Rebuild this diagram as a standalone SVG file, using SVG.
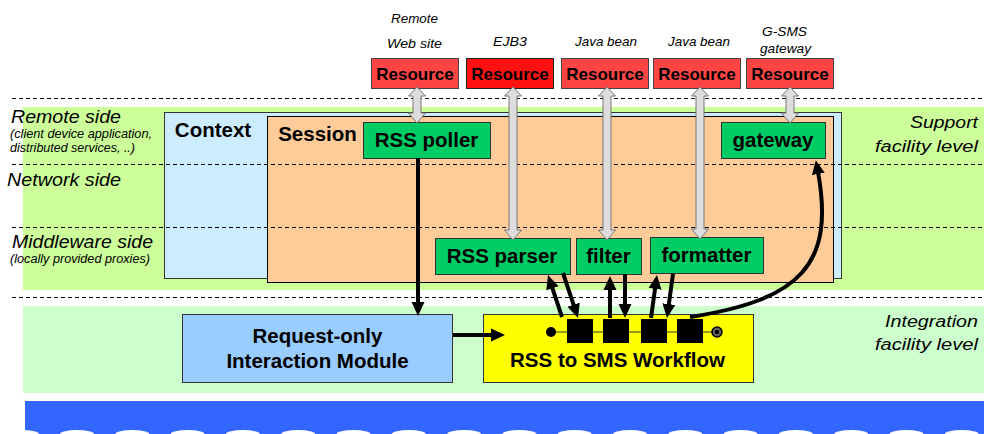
<svg xmlns="http://www.w3.org/2000/svg" width="984" height="434" viewBox="0 0 984 434">
  <style>
    .lbl { font-family: "Liberation Sans", Arial, sans-serif; font-weight: bold; fill: #000; text-anchor: middle; }
    .res { font-size: 17px; }
    .big { font-size: 20.5px; }
    .it { font-family: "Liberation Sans", Arial, sans-serif; font-style: italic; fill: #000; }
    .dash { stroke: #000; stroke-width: 1; stroke-dasharray: 4 3; fill: none; }
    .resbox { fill: #FF4444; stroke: #444; stroke-width: 1; }
    .comp { fill: #00CC66; stroke: #333; stroke-width: 1; }
    .dbl { fill: #DDDDDD; stroke: #777; stroke-width: 1; }
    .flow { stroke: #000; stroke-width: 4; fill: none; marker-end: url(#ah); }
    .step { fill: #000; }
  </style>
  <defs>
    <marker id="ah" viewBox="0 0 14 14" refX="2" refY="7" markerWidth="14" markerHeight="14" markerUnits="userSpaceOnUse" orient="auto">
      <path d="M0,0.5 L14,7 L0,13.5 Z" fill="#000"/>
    </marker>
    <ellipse id="crest" cx="0" cy="434" rx="17" ry="4"/>
  </defs>

  <!-- facility level bands -->
  <rect x="23" y="107" width="961" height="183" fill="#CCFF99"/>
  <rect x="23" y="306" width="961" height="87" fill="#CCFFCC"/>

  <!-- bottom sea band with white scallops -->
  <rect x="25" y="401" width="959" height="33" fill="#3366FF"/>
  <g fill="#FFFFFF">
    <use href="#crest" x="22"/>
    <use href="#crest" x="77"/>
    <use href="#crest" x="132.3"/>
    <use href="#crest" x="187.6"/>
    <use href="#crest" x="242.9"/>
    <use href="#crest" x="298.2"/>
    <use href="#crest" x="353.5"/>
    <use href="#crest" x="408.8"/>
    <use href="#crest" x="464.1"/>
    <use href="#crest" x="519.4"/>
    <use href="#crest" x="574.7"/>
    <use href="#crest" x="630"/>
    <use href="#crest" x="685.3"/>
    <use href="#crest" x="740.6"/>
    <use href="#crest" x="795.9"/>
    <use href="#crest" x="851.2"/>
    <use href="#crest" x="906.5"/>
    <use href="#crest" x="961.8"/>
  </g>

  <!-- containers -->
  <g id="context">
    <rect x="164.5" y="112.5" width="677" height="166" fill="#CCECFF" stroke="#333" stroke-width="1"/>
    <text class="lbl big" x="213" y="137">Context</text>
  </g>
  <g id="session">
    <rect x="267.5" y="116.5" width="566" height="166" fill="#FFCC99" stroke="#000" stroke-width="1"/>
    <text class="lbl big" x="317.5" y="141">Session</text>
  </g>

  <!-- layer separators -->
  <g id="separators">
    <line class="dash" x1="12" y1="98.5" x2="984" y2="98.5"/>
    <line class="dash" x1="12" y1="164.5" x2="984" y2="164.5"/>
    <line class="dash" x1="12" y1="227.5" x2="984" y2="227.5"/>
    <line class="dash" x1="12" y1="297.5" x2="984" y2="297.5"/>
  </g>

  <!-- side and level labels -->
  <g id="labels">
    <text class="it" x="11" y="123" font-size="18" textLength="110" lengthAdjust="spacingAndGlyphs">Remote side</text>
    <text class="it" x="10" y="138" font-size="12" textLength="142" lengthAdjust="spacingAndGlyphs">(client device application,</text>
    <text class="it" x="10" y="152" font-size="12" textLength="125" lengthAdjust="spacingAndGlyphs">distributed services, ..)</text>
    <text class="it" x="7" y="186" font-size="18" textLength="114" lengthAdjust="spacingAndGlyphs">Network side</text>
    <text class="it" x="12" y="248" font-size="18" textLength="141" lengthAdjust="spacingAndGlyphs">Middleware side</text>
    <text class="it" x="10" y="263" font-size="12" textLength="140" lengthAdjust="spacingAndGlyphs">(locally provided proxies)</text>
    <text class="it" x="910" y="128" font-size="16" textLength="68" lengthAdjust="spacingAndGlyphs">Support</text>
    <text class="it" x="875" y="152" font-size="16" textLength="103" lengthAdjust="spacingAndGlyphs">facility level</text>
    <text class="it" x="885" y="327" font-size="16" textLength="93" lengthAdjust="spacingAndGlyphs">Integration</text>
    <text class="it" x="875" y="350" font-size="16" textLength="103" lengthAdjust="spacingAndGlyphs">facility level</text>
  </g>

  <!-- resources -->
  <g id="res-web">
    <text class="it" x="391" y="23" font-size="13" textLength="47" lengthAdjust="spacingAndGlyphs">Remote</text>
    <text class="it" x="387" y="48" font-size="13" textLength="55" lengthAdjust="spacingAndGlyphs">Web site</text>
    <rect class="resbox" x="371.5" y="58.5" width="87" height="30"/>
    <text class="lbl res" x="415" y="80">Resource</text>
  </g>
  <g id="res-ejb3">
    <text class="it" x="493" y="46" font-size="13" textLength="34" lengthAdjust="spacingAndGlyphs">EJB3</text>
    <rect x="466.5" y="58.5" width="87" height="30" fill="#FF1111" stroke="#222" stroke-width="1"/>
    <text class="lbl res" x="510" y="80">Resource</text>
  </g>
  <g id="res-bean1">
    <text class="it" x="575" y="46" font-size="13" textLength="62" lengthAdjust="spacingAndGlyphs">Java bean</text>
    <rect class="resbox" x="561.5" y="58.5" width="87" height="30"/>
    <text class="lbl res" x="605" y="80">Resource</text>
  </g>
  <g id="res-bean2">
    <text class="it" x="668" y="46" font-size="13" textLength="62" lengthAdjust="spacingAndGlyphs">Java bean</text>
    <rect class="resbox" x="653.5" y="58.5" width="87" height="30"/>
    <text class="lbl res" x="697" y="80">Resource</text>
  </g>
  <g id="res-gsms">
    <text class="it" x="762" y="36" font-size="13" textLength="45" lengthAdjust="spacingAndGlyphs">G-SMS</text>
    <text class="it" x="760" y="53" font-size="13" textLength="51" lengthAdjust="spacingAndGlyphs">gateway</text>
    <rect class="resbox" x="746.5" y="58.5" width="87" height="30"/>
    <text class="lbl res" x="790" y="80">Resource</text>
  </g>

  <!-- session components -->
  <g id="rss-poller">
    <rect class="comp" x="363.5" y="122.5" width="127" height="36"/>
    <text class="lbl big" x="426.5" y="147">RSS poller</text>
  </g>
  <g id="gateway">
    <rect class="comp" x="721.5" y="122.5" width="104" height="36"/>
    <text class="lbl big" x="773" y="147">gateway</text>
  </g>
  <g id="rss-parser">
    <rect class="comp" x="435.5" y="238.5" width="135" height="36"/>
    <text class="lbl big" x="502" y="263">RSS parser</text>
  </g>
  <g id="filter">
    <rect class="comp" x="576.5" y="238.5" width="65" height="36"/>
    <text class="lbl big" x="608.5" y="263">filter</text>
  </g>
  <g id="formatter">
    <rect class="comp" x="650.5" y="237.5" width="113" height="36"/>
    <text class="lbl big" x="706.5" y="262">formatter</text>
  </g>

  <!-- integration level -->
  <g id="request-module">
    <rect x="182.5" y="314.5" width="270" height="68" fill="#99CCFF" stroke="#333" stroke-width="1"/>
    <text class="lbl big" x="317.5" y="343">Request-only</text>
    <text class="lbl big" x="317.5" y="368">Interaction Module</text>
  </g>
  <g id="workflow">
    <rect x="483.5" y="314.5" width="270" height="68" fill="#FFFF00" stroke="#333" stroke-width="1"/>
    <line x1="551" y1="332" x2="717" y2="332" stroke="#333" stroke-width="1"/>
    <circle cx="551" cy="332" r="5" fill="#000"/>
    <rect class="step" x="567" y="319" width="26" height="24"/>
    <rect class="step" x="603" y="319" width="26" height="24"/>
    <rect class="step" x="641" y="319" width="26" height="24"/>
    <rect class="step" x="677" y="319" width="26" height="24"/>
    <circle cx="717" cy="332" r="5" fill="#666" stroke="#000" stroke-width="1.5"/>
    <circle cx="717" cy="332" r="2.2" fill="#000"/>
    <text class="lbl big" x="617.5" y="367">RSS to SMS Workflow</text>
  </g>

  <!-- connectors -->
  <g id="connectors">
    <!-- resource access (two-way) -->
    <path class="dbl" d="M417,87 L425.5,96 L421,96 L421,113 L425.5,113 L417,123 L408.5,113 L413,113 L413,96 L408.5,96 Z"/>
    <path class="dbl" d="M513,87 L521.5,96 L517,96 L517,230 L521.5,230 L513,240 L504.5,230 L509,230 L509,96 L504.5,96 Z"/>
    <path class="dbl" d="M607,87 L615.5,96 L611,96 L611,230 L615.5,230 L607,240 L598.5,230 L603,230 L603,96 L598.5,96 Z"/>
    <path class="dbl" d="M700,87 L708.5,96 L704,96 L704,229 L708.5,229 L700,239 L691.5,229 L696,229 L696,96 L691.5,96 Z"/>
    <path class="dbl" d="M790,87 L798.5,96 L794,96 L794,113 L798.5,113 L790,123 L781.5,113 L786,113 L786,96 L781.5,96 Z"/>

    <!-- control and data flow -->
    <line class="flow" x1="418" y1="158" x2="418" y2="304"/>
    <line class="flow" x1="453" y1="335" x2="493" y2="335"/>
    <line class="flow" x1="562" y1="317" x2="551.8" y2="286.4"/>
    <line class="flow" x1="563" y1="273" x2="574.2" y2="306.6"/>
    <line class="flow" x1="610" y1="318" x2="610" y2="288"/>
    <line class="flow" x1="625" y1="274" x2="625" y2="306"/>
    <line class="flow" x1="651" y1="318" x2="655.3" y2="286.9"/>
    <line class="flow" x1="673" y1="274" x2="668.6" y2="306.1"/>
    <path class="flow" d="M690,317 C800,300 835,265 818,172"/>
  </g>
</svg>
